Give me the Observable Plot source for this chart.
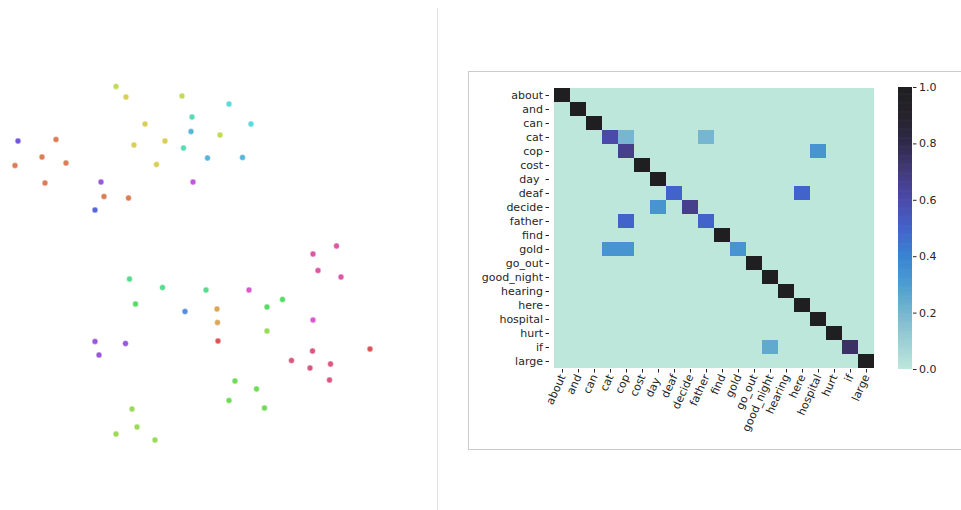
<!DOCTYPE html>
<html>
<head>
<meta charset="utf-8">
<script src="https://cdn.jsdelivr.net/npm/d3@7"></script>
<script src="https://cdn.jsdelivr.net/npm/@observablehq/plot@0.6"></script>
<style>
  html, body { margin: 0; padding: 0; background: #fff; }
  #root { position: relative; width: 961px; height: 510px; overflow: hidden; font-family: "DejaVu Sans", sans-serif; }
  #root svg { position: absolute; overflow: visible; background: none; max-width: none !important;
    font-family: "DejaVu Sans", sans-serif !important; font-size: 11px !important; }
  #root svg text { white-space: pre; font-family: "DejaVu Sans", sans-serif; font-size: 11px; fill: #262626; }
  .divider { position: absolute; left: 437px; top: 8px; width: 1px; height: 502px; background: #e2e2e2; }
  .frame { position: absolute; left: 468px; top: 71px; width: 540px; height: 377px; border: 1px solid #cccccc; }
</style>
</head>
<body>
<div id="root">
  <div class="divider"></div>
  <div class="frame"></div>
</div>
<script>
// Embedding projection: one dot per sample, coloured by word class (0..19)
const pointX = [5.5, 35.9,
  -26.9, -29.7, -35.1, -24.9, -29.1, -17.3, -12.4,
  5.3, 5.4,
  -12.9, -9.1, -5.1, -11.3, -6.8,
  -14.9, -1.7, 5.9,
  -11.7, -10.7, -14.9, -7.1, 15.3,
  8.9, 13.2, 7.7, 14.8,
  -11.0, 18.4, 15.3,
  -12.2, -5.6, 3.1,
  0.3, -1.4,
  7.7, 12.1,
  0.1, 3.4, 10.4,
  -1.1,
  -19.1,
  -34.5,
  -17.9, -19.1, -13.0, -18.3,
  0.5,
  11.7, 24.5,
  29.2, 24.5, 25.5, 30.1,
  24.4, 20.2, 28.0, 23.9, 27.8];
const pointY = [-15.1, -16.7,
  25.2, 21.7, 20.0, 20.5, 16.5, 13.8, 13.5,
  -8.7, -11.4,
  33.7, 28.3, 24.9, 24.1, 20.2,
  35.8, 33.9, 26.1,
  -28.7, -32.3, -33.7, -34.9, -13.1,
  -23.1, -24.7, -27.0, -28.5,
  -7.7, -6.8, -8.3,
  -2.7, -4.4, -4.9,
  29.7, 23.5,
  32.3, 28.3,
  26.8, 21.5, 21.6,
  -9.2,
  11.1,
  24.9,
  16.7, -15.2, -15.6, -17.9,
  16.7,
  -4.9, -10.9,
  3.9, 2.3, -1.0, -2.3,
  -17.1, -19.0, -19.7, -20.5, -22.9];
const pointClass = [0, 0,
  1, 1, 1, 1, 1, 1, 1,
  2, 2,
  3, 3, 3, 3, 3,
  4, 4, 4,
  5, 5, 5, 5, 5,
  6, 6, 6, 6,
  7, 7, 7,
  8, 8, 8,
  9, 9,
  10, 10,
  11, 11, 11,
  12,
  13,
  14,
  15, 15, 15, 15,
  16,
  17, 17,
  18, 18, 18, 18,
  19, 19, 19, 19, 19];

// Similarity matrix between words (row-normalised), non-zero entries only
const words = ["about", "and", "can", "cat", "cop", "cost", "day ", "deaf", "decide", "father",
  "find", "gold", "go_out", "good_night", "hearing", "here", "hospital", "hurt", "if", "large"];
const entryRow = ["about", "and", "can", "cat", "cat", "cat", "cop", "cop", "cost", "day ",
  "deaf", "deaf", "decide", "decide", "father", "father", "find", "gold", "gold", "gold",
  "go_out", "good_night", "hearing", "here", "hospital", "hurt", "if", "if", "large"];
const entryCol = ["about", "and", "can", "cat", "cop", "father", "cop", "hospital", "cost", "day ",
  "deaf", "here", "day ", "decide", "cop", "father", "find", "cat", "cop", "gold",
  "go_out", "good_night", "hearing", "here", "hospital", "hurt", "good_night", "if", "large"];
const entryValue = [1, 1, 1, 0.6, 0.2, 0.2, 0.667, 0.333, 1, 1,
  0.5, 0.5, 0.333, 0.667, 0.5, 0.5, 1, 0.333, 0.333, 0.333,
  1, 1, 1, 1, 1, 1, 0.25, 0.75, 1];
const colorbarTicks = [0, 0.2, 0.4, 0.6, 0.8, 1.0];

// Palette for the dots: evenly spaced HLS hues
const palette = d3.range(20).map(i => d3.hsl(i * 18, 0.65, 0.6).formatHex());
// Mint → blue → indigo → near-black ramp for the matrix
const rampColors = ["#bde7db", "#9bcfd5", "#76b6d0", "#4d9cd0", "#3a84d0", "#4263c9",
  "#4b4aa8", "#433a7c", "#302a4c", "#26232c", "#1f1f21"];
const ramp = d3.piecewise(d3.interpolateRgb, rampColors);

const points = pointX.map((x, i) => ({x, y: pointY[i], cls: pointClass[i]}));

const lookup = new Map(entryRow.map((r, i) => [r + "|" + entryCol[i], entryValue[i]]));
const cells = [];
for (const r of words) for (const c of words) {
  cells.push({row: r, col: c, value: lookup.get(r + "|" + c) ?? 0});
}

const root = document.getElementById("root");
const textStyle = {fontFamily: "DejaVu Sans, sans-serif", fontSize: "11px", color: "#262626", background: "none"};

// Left: scatter of the projected samples
const scatter = Plot.plot({
  width: 437, height: 510, margin: 0,
  style: textStyle,
  x: {domain: [-38, 49.4], axis: null},
  y: {domain: [-49, 53], axis: null},
  color: {type: "ordinal", domain: d3.range(20), range: palette},
  marks: [
    Plot.dot(points, {x: "x", y: "y", fill: "cls", r: 2.9, stroke: "white", strokeWidth: 0.4})
  ]
});
scatter.style.left = "0px";
scatter.style.top = "0px";
root.appendChild(scatter);

// Right: word-by-word heatmap
const heat = Plot.plot({
  width: 420, height: 377,
  marginLeft: 79, marginRight: 12, marginTop: 15, marginBottom: 80,
  style: textStyle,
  x: {type: "band", domain: words, padding: 0, label: null},
  y: {type: "band", domain: words, padding: 0, label: null},
  color: {type: "linear", domain: [0, 1], interpolate: () => ramp},
  marks: [
    Plot.cell(cells, {x: "col", y: "row", fill: "value"}),
    Plot.axisX({tickRotate: -66, tickSize: 3.5, tickPadding: 2, label: null, stroke: "#262626", fontSize: 11}),
    Plot.axisY({tickSize: 3.5, tickPadding: 3, label: null, stroke: "#262626", fontSize: 11})
  ]
});
heat.style.left = "470px";
heat.style.top = "72px";
root.appendChild(heat);

// Colour bar for the heatmap
const step = 0.004;
const slices = d3.range(0, 1, step);
const bar = Plot.plot({
  width: 60, height: 377,
  marginLeft: 8, marginRight: 38, marginTop: 15, marginBottom: 80,
  style: textStyle,
  x: {domain: [0, 1], axis: null},
  y: {domain: [0, 1], axis: null},
  color: {type: "linear", domain: [0, 1], interpolate: () => ramp},
  marks: [
    Plot.rect(slices, {x1: 0, x2: 1, y1: d => d, y2: d => Math.min(1, d + step * 1.6), fill: d => d + step / 2}),
    Plot.axisY({anchor: "right", ticks: colorbarTicks, tickFormat: d3.format(".1f"), tickSize: 3.5, tickPadding: 3, label: null, stroke: "#262626", fontSize: 11})
  ]
});
bar.style.left = "890px";
bar.style.top = "72px";
root.appendChild(bar);
</script>
</body>
</html>
